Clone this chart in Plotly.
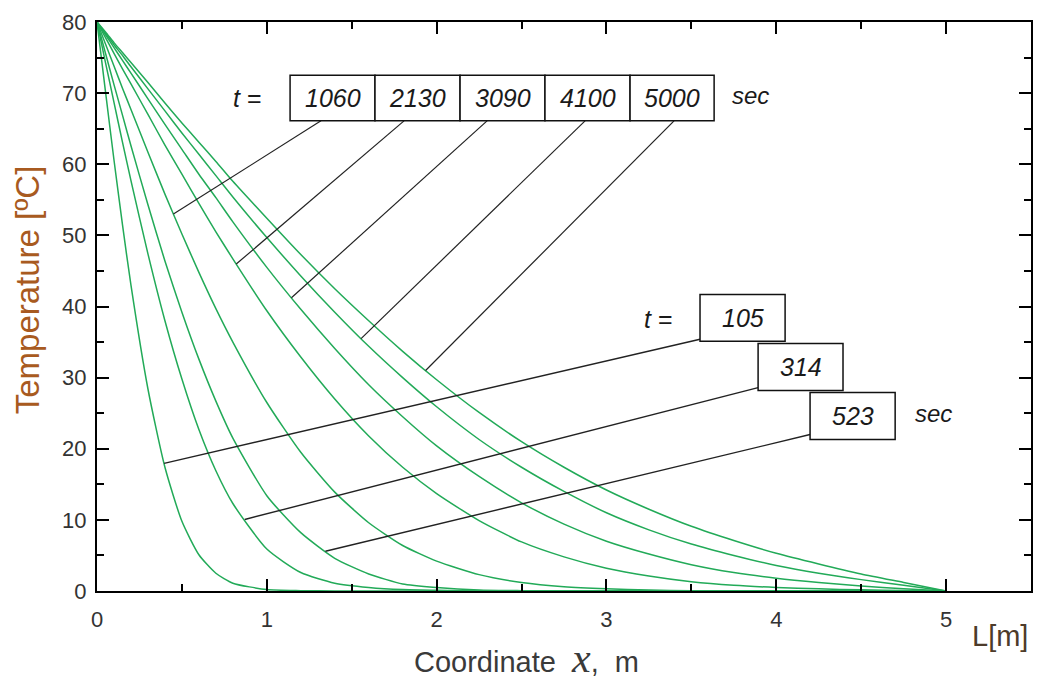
import numpy as np
import plotly.graph_objects as go

# ---- data ----
x_coord = [0, 0.05, 0.1, 0.15, 0.2, 0.3, 0.4, 0.5, 0.6, 0.7, 0.8, 1.0, 1.2, 1.4, 1.6,
           1.8, 2.0, 2.25, 2.5, 2.75, 3.0, 3.25, 3.5, 3.75, 4.0, 4.25, 4.5, 4.75, 5.0]

times = [105, 314, 523, 1060, 2130, 3090, 4100, 5000]

T_105 = [80, 70.2, 60.6, 51.5, 43.0, 28.4, 17.4, 9.8, 5.1, 2.5, 1.1, 0.2, 0.05, 0, 0,
         0, 0, 0, 0, 0, 0, 0, 0, 0, 0, 0, 0, 0, 0]
T_314 = [80, 74.3, 68.7, 63.1, 57.7, 47.4, 38.0, 29.8, 22.7, 16.9, 12.3, 5.9, 2.6, 1.1, 0.5,
         0.2, 0.1, 0, 0, 0, 0, 0, 0, 0, 0, 0, 0, 0, 0]
T_523 = [80, 75.6, 71.2, 66.9, 62.6, 54.3, 46.4, 39.2, 32.6, 26.7, 21.5, 13.4, 8.2, 4.6, 2.4,
         1.0, 0.5, 0.15, 0.05, 0, 0, 0, 0, 0, 0, 0, 0, 0, 0]
T_1060 = [80, 76.9, 73.8, 70.7, 67.7, 61.7, 55.8, 50.2, 44.8, 39.7, 35.0, 26.5, 19.5, 13.9, 9.6,
          6.4, 4.2, 2.3, 1.2, 0.6, 0.3, 0.13, 0.05, 0, 0, 0, 0, 0, 0]
T_2130 = [80, 77.8, 75.6, 73.4, 71.3, 67.0, 62.7, 58.6, 54.5, 50.5, 46.7, 39.4, 32.9, 27.0, 21.8,
          17.4, 13.7, 9.9, 6.9, 4.8, 3.2, 2.1, 1.3, 0.8, 0.5, 0.3, 0.16, 0.06, 0]
T_3090 = [80, 78.2, 76.4, 74.6, 72.8, 69.2, 65.6, 62.1, 58.6, 55.3, 51.9, 45.5, 39.6, 34.1, 29.0,
          24.5, 20.4, 16.1, 12.4, 9.4, 7.0, 5.2, 3.7, 2.6, 1.8, 1.2, 0.7, 0.3, 0]
T_4100 = [80, 78.4, 76.8, 75.3, 73.7, 70.6, 67.5, 64.4, 61.4, 58.4, 55.4, 49.7, 44.3, 39.2, 34.4,
          30.0, 25.9, 21.3, 17.4, 14.0, 11.0, 8.6, 6.6, 5.0, 3.6, 2.5, 1.6, 0.8, 0]
T_5000 = [80, 78.6, 77.1, 75.7, 74.3, 71.5, 68.6, 65.8, 63.1, 60.4, 57.6, 52.4, 47.3, 42.5, 38.0,
          33.7, 29.7, 25.1, 21.0, 17.4, 14.2, 11.5, 9.1, 7.1, 5.3, 3.8, 2.4, 1.2, 0]

series = {105: T_105, 314: T_314, 523: T_523, 1060: T_1060,
          2130: T_2130, 3090: T_3090, 4100: T_4100, 5000: T_5000}

x_ticks = [0, 1, 2, 3, 4, 5]
y_ticks = [0, 10, 20, 30, 40, 50, 60, 70, 80]

# where each label's leader line touches its curve (x in metres)
leader_x = {105: 0.395, 314: 0.87, 523: 1.345, 1060: 0.45,
            2130: 0.82, 3090: 1.145, 4100: 1.555, 5000: 1.935}

GREEN = "#22aa58"
FONT = "Liberation Sans, Arial, sans-serif"
TXT = "#1a1a1a"

fig = go.Figure(layout=dict(template="none"))
for t in times:
    fig.add_trace(go.Scatter(x=x_coord, y=series[t], mode="lines",
                             line=dict(color=GREEN, width=1.5, shape="spline", smoothing=0.6),
                             name=f"{t} s", hoverinfo="skip"))

shapes = []
annotations = []


def label(x, y, text, size=25, xref="x", yref="y", **kw):
    d = dict(x=x, y=y, xref=xref, yref=yref, text=text, showarrow=False,
             xanchor="center", yanchor="middle",
             font=dict(family=FONT, size=size, color=kw.pop("color", TXT)))
    d.update(kw)
    annotations.append(d)


# ---- upper label group (1060 ... 5000) ----
top_edges = [1.137, 1.637, 2.138, 2.638, 3.139, 3.634]
top_y0, top_y1 = 66.1, 72.5
top_leader_start = [1.319, 1.808, 2.297, 2.874, 3.398]
top_group = [1060, 2130, 3090, 4100, 5000]
for i, t in enumerate(top_group):
    tx = leader_x[t]
    ty = float(np.interp(tx, x_coord, series[t]))
    shapes.append(dict(type="line", xref="x", yref="y", x0=top_leader_start[i], y0=top_y0,
                       x1=tx, y1=ty, line=dict(color="#222", width=1.2)))
for i, t in enumerate(top_group):
    shapes.append(dict(type="rect", xref="x", yref="y", x0=top_edges[i], x1=top_edges[i + 1],
                       y0=top_y0, y1=top_y1, line=dict(color="#111", width=1.5), fillcolor="white"))
    label((top_edges[i] + top_edges[i + 1]) / 2, (top_y0 + top_y1) / 2, f"<i>{t}</i>")
label(0.889, 69.3, "<i>t</i> =")
label(3.846, 69.6, "<i>sec</i>", size=24)

# ---- lower label group (105, 314, 523) ----
low_boxes = {105: (3.551, 4.052, 35.1, 41.7),
             314: (3.893, 4.393, 28.2, 34.8),
             523: (4.199, 4.700, 21.3, 27.9)}
low_start = {105: (3.551, 35.4), 314: (3.893, 28.6), 523: (4.199, 22.0)}
for t in [105, 314, 523]:
    tx = leader_x[t]
    ty = float(np.interp(tx, x_coord, series[t]))
    sx, sy = low_start[t]
    shapes.append(dict(type="line", xref="x", yref="y", x0=sx, y0=sy, x1=tx, y1=ty,
                       line=dict(color="#222", width=1.4)))
for t in [105, 314, 523]:
    x0, x1, y0, y1 = low_boxes[t]
    shapes.append(dict(type="rect", xref="x", yref="y", x0=x0, x1=x1, y0=y0, y1=y1,
                       line=dict(color="#111", width=1.5), fillcolor="white"))
    label((x0 + x1) / 2, (y0 + y1) / 2, f"<i>{t}</i>")
label(3.304, 38.3, "<i>t</i> =")
label(4.923, 24.9, "<i>sec</i>", size=24)

# ---- axis titles ----
label(-0.074, 0.53, "Temperature [ºC]", size=33, xref="paper", yref="paper",
      textangle=-90, color="#a85a20")
label(2.53, -0.118,
      "Coordinate  <span style='font-family:Liberation Serif, Times New Roman, serif; font-size:42px'><i>x</i></span>,  m",
      size=29, yref="paper", color="#3a3a3a")
label(5.318, -0.079, "L[m]", size=29, yref="paper", color="#4d3b2a")

tickfont = dict(family=FONT, size=22, color="#333")
axis_common = dict(showgrid=False, zeroline=False, showline=True, linecolor="black", linewidth=2,
                   mirror="allticks", ticks="inside", ticklen=12, tickwidth=2, tickcolor="black",
                   tickfont=tickfont, tickmode="array")

fig.update_xaxes(range=[0, 5.5], tickvals=x_ticks, ticktext=[str(v) for v in x_ticks],
                 minor=dict(dtick=0.5, tick0=0, ticks="inside", ticklen=7, tickwidth=2,
                            tickcolor="black"),
                 ticklabelstandoff=8, **axis_common)
fig.update_yaxes(range=[0, 80], tickvals=y_ticks, ticktext=[str(v) for v in y_ticks],
                 minor=dict(dtick=5, tick0=0, ticks="inside", ticklen=7, tickwidth=2,
                            tickcolor="black"),
                 ticklabelstandoff=4, **axis_common)

fig.update_layout(width=1043, height=684, margin=dict(l=97, r=12, t=22, b=93),
                  paper_bgcolor="white", plot_bgcolor="white", showlegend=False,
                  font=dict(family=FONT, size=22, color="#333"),
                  shapes=shapes, annotations=annotations)

fig.write_html("out.html")
